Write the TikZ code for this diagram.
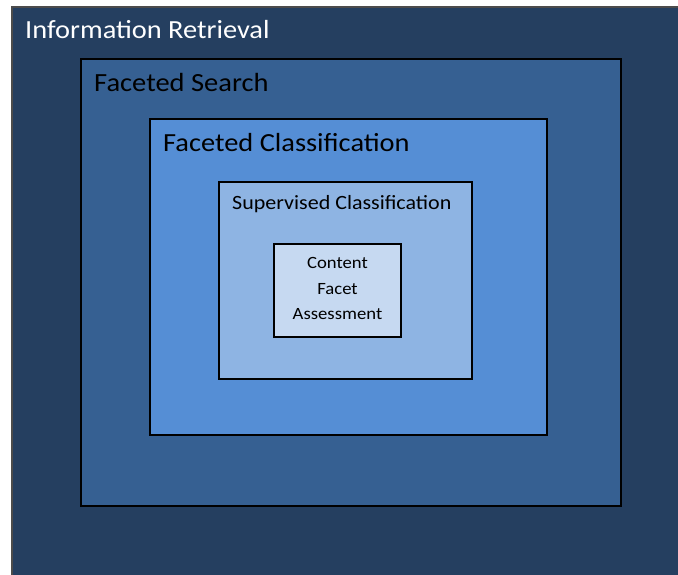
\documentclass[tikz,border=0pt]{standalone}
\usepackage{fontspec}
\setmainfont{Carlito}
\definecolor{cIR}{HTML}{253F60}
\definecolor{cFS}{HTML}{366092}
\definecolor{cFC}{HTML}{558ED5}
\definecolor{cSC}{HTML}{8EB4E3}
\definecolor{cCF}{HTML}{C6D9F1}
\newcommand{\sq}[1]{\scalebox{1}[0.92]{#1}}
\tikzset{
  layer/.style={draw=black, line width=1.2pt, anchor=north west, inner sep=0pt, outer sep=0pt},
  lbl/.style={anchor=base west, inner sep=0pt},
}
\begin{document}
\begin{tikzpicture}[x=1pt,y=-1pt]
\useasboundingbox (0,0) rectangle (678,574);
\node[layer, draw=black!70, fill=cIR, minimum width=680pt, minimum height=580pt] (ir) at (12,7) {};
\node[layer, fill=cFS, minimum width=540pt, minimum height=447pt] (fs) at (81,59) {};
\node[layer, fill=cFC, minimum width=397pt, minimum height=316pt] (fc) at (150,119) {};
\node[layer, fill=cSC, minimum width=253pt, minimum height=197pt] (sc) at (219,182) {};
\node[layer, fill=cCF, minimum width=127pt, minimum height=93pt] (cf) at (274,244) {};
\node[lbl, text=white, font=\fontsize{28.4}{32}\selectfont] (tir) at (25,38.5) {\sq{Information Retrieval}};
\node[lbl, text=black, font=\fontsize{28.5}{32}\selectfont] (tfs) at (94,91.5) {\sq{Faceted Search}};
\node[lbl, text=black, font=\fontsize{28.4}{32}\selectfont] (tfc) at (163,151) {\sq{Faceted Classification}};
\node[lbl, text=black, font=\fontsize{22}{26}\selectfont] (tsc) at (232,209) {\sq{Supervised Classification}};
\node[align=center, text=black, font=\fontsize{18.7}{25.5}\selectfont, inner sep=0pt] (tcf) at (337.5,288.5) {\sq{Content}\\\sq{Facet}\\\sq{Assessment}};
\end{tikzpicture}
\end{document}
